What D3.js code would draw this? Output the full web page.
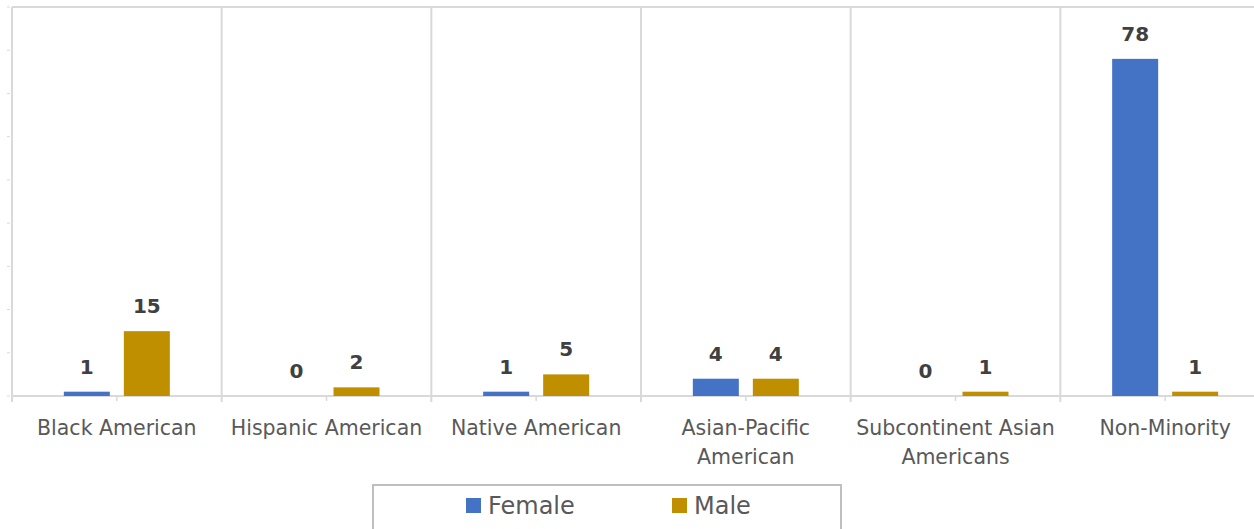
<!DOCTYPE html>
<html>
<head>
<meta charset="utf-8">
<script src="https://cdn.jsdelivr.net/npm/d3@7"></script>
<style>
  html, body { margin: 0; padding: 0; background: #fff; }
  svg { display: block; }
</style>
</head>
<body>
<svg id="chart" width="1254" height="529"></svg>
<script>
const categories = [
  ['Black American'],
  ['Hispanic American'],
  ['Native American'],
  ['Asian-Pacific', 'American'],
  ['Subcontinent Asian', 'Americans'],
  ['Non-Minority']
];
const seriesNames = ['Female', 'Male'];
const femaleValues = [1, 0, 1, 4, 0, 78];
const maleValues = [15, 2, 5, 4, 1, 1];
const yTicks = [0, 10, 20, 30, 40, 50, 60, 70, 80, 90];

const colors = {Female: '#4472C4', Male: '#BF8F00'};
const gridColor = '#D9D9D9';
const font = "'DejaVu Sans', sans-serif";

const svg = d3.select('#chart');
const plot = {left: 12, right: 1270, top: 7, bottom: 396};

const catKeys = categories.map(c => c.join(' '));
const rows = catKeys.map((k, i) => ({key: k, lines: categories[i], Female: femaleValues[i], Male: maleValues[i]}));

const x = d3.scaleBand().domain(catKeys).range([plot.left, plot.right]).padding(0);
const y = d3.scaleLinear().domain([0, 90]).range([plot.bottom, plot.top]);
const inner = d3.scaleBand().domain(seriesNames).paddingInner(0.2333).paddingOuter(0);

// plot frame: top line, left axis, category dividers
svg.append('line')
  .attr('x1', plot.left).attr('x2', plot.right)
  .attr('y1', y(90)).attr('y2', y(90))
  .attr('stroke', gridColor).attr('stroke-width', 2);

svg.append('line')
  .attr('x1', plot.left).attr('x2', plot.left)
  .attr('y1', plot.top).attr('y2', plot.bottom + 6)
  .attr('stroke', gridColor).attr('stroke-width', 2);

svg.selectAll('.divider')
  .data(catKeys.slice(1))
  .enter()
  .append('line')
  .attr('class', 'divider')
  .attr('x1', d => x(d)).attr('x2', d => x(d))
  .attr('y1', plot.top).attr('y2', plot.bottom + 6)
  .attr('stroke', gridColor).attr('stroke-width', 2);

// y ticks (no labels)
svg.selectAll('.ytick')
  .data(yTicks)
  .enter()
  .append('line')
  .attr('class', 'ytick')
  .attr('x1', plot.left - 5).attr('x2', plot.left - 2)
  .attr('y1', d => y(d)).attr('y2', d => y(d))
  .attr('stroke', gridColor).attr('stroke-width', 1);

// baseline
svg.append('line')
  .attr('x1', plot.left).attr('x2', plot.right)
  .attr('y1', plot.bottom).attr('y2', plot.bottom)
  .attr('stroke', gridColor).attr('stroke-width', 2);

// mid ticks on category axis
svg.selectAll('.midtick')
  .data(catKeys)
  .enter()
  .append('line')
  .attr('class', 'midtick')
  .attr('x1', d => x(d) + x.bandwidth() / 2).attr('x2', d => x(d) + x.bandwidth() / 2)
  .attr('y1', plot.bottom).attr('y2', plot.bottom + 5)
  .attr('stroke', gridColor).attr('stroke-width', 1.5);

// bars
const groups = svg.selectAll('.g_cat')
  .data(rows)
  .enter()
  .append('g')
  .attr('class', 'g_cat')
  .attr('transform', d => 'translate(' + (x(d.key) + x.bandwidth() / 2 - 53) + ',0)');

inner.range([0, 106]);

groups.each(function(d) {
  const g = d3.select(this);
  seriesNames.forEach(s => {
    g.append('rect')
      .attr('x', inner(s))
      .attr('y', y(d[s]))
      .attr('width', inner.bandwidth())
      .attr('height', plot.bottom - y(d[s]))
      .attr('fill', colors[s]);

    g.append('text')
      .attr('x', inner(s) + inner.bandwidth() / 2)
      .attr('y', y(d[s]) - 18)
      .attr('text-anchor', 'middle')
      .attr('font-family', font)
      .attr('font-weight', 'bold')
      .attr('font-size', 20)
      .attr('fill', '#404040')
      .text(d[s]);
  });
});

// category labels
svg.selectAll('.cat_label')
  .data(rows)
  .enter()
  .append('text')
  .attr('class', 'cat_label')
  .attr('x', d => x(d.key) + x.bandwidth() / 2)
  .attr('y', 435)
  .attr('text-anchor', 'middle')
  .attr('font-family', font)
  .attr('font-size', 20.5)
  .attr('fill', '#595959')
  .each(function(d) {
    const t = d3.select(this);
    d.lines.forEach((line, i) => {
      t.append('tspan')
        .attr('x', x(d.key) + x.bandwidth() / 2)
        .attr('dy', i === 0 ? 0 : 29)
        .text(line);
    });
  });

// legend
const legend = svg.append('g').attr('class', 'legend');
legend.append('rect')
  .attr('x', 373).attr('y', 485)
  .attr('width', 468).attr('height', 60)
  .attr('fill', '#fff')
  .attr('stroke', '#BFBFBF').attr('stroke-width', 2);

const legendX = {Female: 466, Male: 672};
seriesNames.forEach(s => {
  legend.append('rect')
    .attr('x', legendX[s]).attr('y', 498)
    .attr('width', 15).attr('height', 15)
    .attr('fill', colors[s]);
  legend.append('text')
    .attr('x', legendX[s] + 22)
    .attr('y', 514)
    .attr('font-family', font)
    .attr('font-size', 24)
    .attr('fill', '#595959')
    .text(s);
});
</script>
</body>
</html>
